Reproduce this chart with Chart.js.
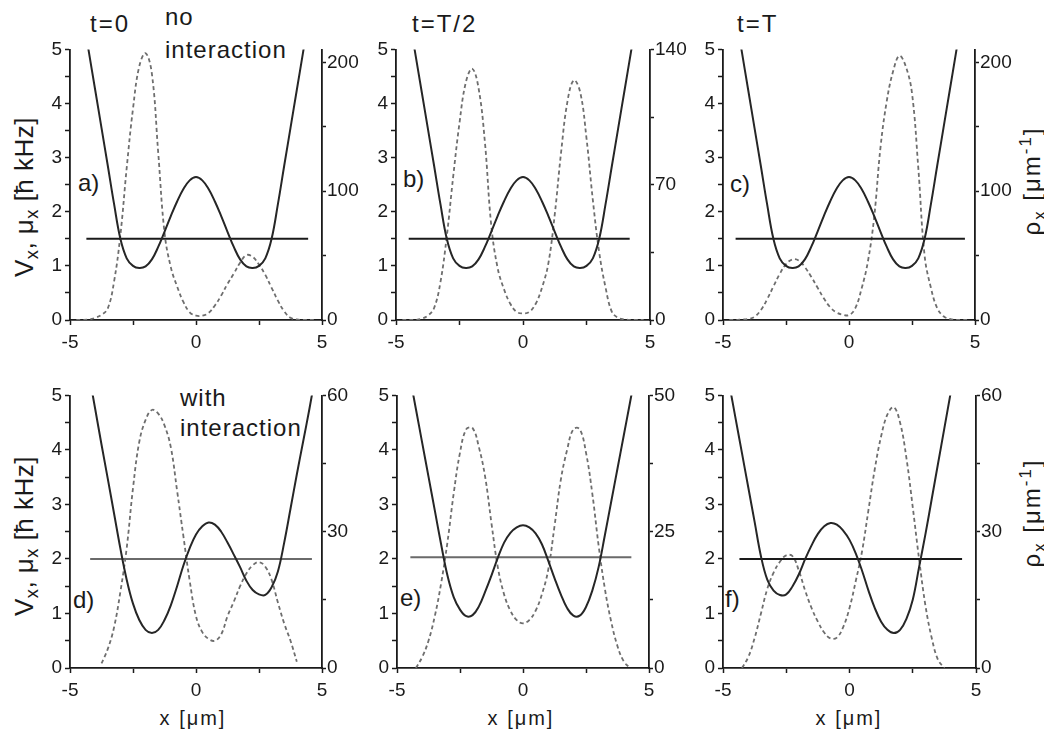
<!DOCTYPE html>
<html>
<head>
<meta charset="utf-8">
<script src="https://cdn.jsdelivr.net/npm/chart.js"></script>
<style>
  html, body { margin: 0; padding: 0; background: #fff; }
  body { width: 1044px; height: 732px; position: relative; overflow: hidden;
         font-family: "Liberation Sans", Arial, sans-serif; color: #1a1a1a; }
  .txt { position: absolute; white-space: nowrap; line-height: 1; }
  .big { font-size: 24px; letter-spacing: 2px; }
  .note { font-size: 24px; letter-spacing: 1px; }
  .tag { font-size: 24px; }
  .xt { font-size: 20px; letter-spacing: 2px; transform: translateX(-50%); }
  .yt { font-size: 26px; letter-spacing: 0.5px; transform: translate(-50%, -50%) rotate(-90deg); }
  .rt { font-size: 24px; letter-spacing: 2px; transform: translate(-50%, -50%) rotate(-90deg); }
  sub { font-size: 0.7em; vertical-align: -0.3em; line-height: 0; }
  sup { font-size: 0.7em; vertical-align: 0.55em; line-height: 0; }
</style>
</head>
<body>

<div class="txt big" style="left:90px;top:12px">t=0</div>
<div class="txt big" style="left:412px;top:12px">t=T/2</div>
<div class="txt big" style="left:737px;top:12px">t=T</div>
<div class="txt note" style="left:165px;top:5px">no</div>
<div class="txt note" style="left:165px;top:38px">interaction</div>
<div class="txt note" style="left:180px;top:386px">with</div>
<div class="txt note" style="left:180px;top:416px">interaction</div>

<div class="txt tag" style="left:78px;top:171px">a)</div>
<div class="txt tag" style="left:403px;top:167px">b)</div>
<div class="txt tag" style="left:730px;top:172px">c)</div>
<div class="txt tag" style="left:73px;top:588px">d)</div>
<div class="txt tag" style="left:400px;top:586px">e)</div>
<div class="txt tag" style="left:725px;top:587px">f)</div>

<div class="txt yt" style="left:24px;top:197px">V<sub>x</sub>, μ<sub>x</sub> [ħ kHz]</div>
<div class="txt yt" style="left:24px;top:536px">V<sub>x</sub>, μ<sub>x</sub> [ħ kHz]</div>
<div class="txt rt" style="left:1032px;top:181px">ρ<sub>x</sub> [μm<sup>-1</sup>]</div>
<div class="txt rt" style="left:1032px;top:513px">ρ<sub>x</sub> [μm<sup>-1</sup>]</div>

<div class="txt xt" style="left:193px;top:708px">x [μm]</div>
<div class="txt xt" style="left:521px;top:708px">x [μm]</div>
<div class="txt xt" style="left:849px;top:708px">x [μm]</div>

<script>
// x grid in µm, shared by every curve
const xGrid = [-5, -4.75, -4.5, -4.25, -4, -3.75, -3.5, -3.25, -3, -2.75, -2.5, -2.25, -2, -1.75, -1.5, -1.25, -1, -0.75, -0.5, -0.25,
  0, 0.25, 0.5, 0.75, 1, 1.25, 1.5, 1.75, 2, 2.25, 2.5, 2.75, 3, 3.25, 3.5, 3.75, 4, 4.25, 4.5, 4.75, 5];

// potentials V_x [hbar kHz]
const potTop = [null, null, 5.65, 4.95, 4.25, 3.55, 2.85, 2.14, 1.5, 1.14, 1.0, 0.96, 0.99, 1.12, 1.35, 1.63, 1.92, 2.19, 2.42, 2.58,
  2.64, 2.58, 2.42, 2.19, 1.92, 1.63, 1.35, 1.12, 0.99, 0.96, 1.0, 1.14, 1.5, 2.14, 2.85, 3.55, 4.25, 4.95, 5.65, null, null];
const potD = [null, null, null, 5.4, 4.75, 4.1, 3.47, 2.83, 2.19, 1.62, 1.18, 0.88, 0.7, 0.64, 0.7, 0.88, 1.15, 1.5, 1.88, 2.2,
  2.45, 2.6, 2.67, 2.63, 2.5, 2.3, 2.08, 1.85, 1.6, 1.43, 1.35, 1.34, 1.48, 1.77, 2.3, 2.92, 3.55, 4.15, 4.75, 5.4, null];
const potE = [null, null, 5.37, 4.75, 4.13, 3.51, 2.89, 2.27, 1.7, 1.3, 1.07, 0.95, 0.97, 1.13, 1.4, 1.7, 2.02, 2.3, 2.48, 2.58,
  2.62, 2.58, 2.47, 2.27, 1.97, 1.65, 1.35, 1.1, 0.96, 0.96, 1.12, 1.42, 1.85, 2.44, 3.05, 3.66, 4.27, 4.88, 5.49, null, null];
const potF = [null, 5.2, 4.57, 3.94, 3.31, 2.68, 2.05, 1.62, 1.42, 1.34, 1.35, 1.5, 1.72, 2.0, 2.25, 2.46, 2.6, 2.66, 2.63, 2.52,
  2.35, 2.1, 1.78, 1.42, 1.1, 0.85, 0.7, 0.64, 0.7, 0.9, 1.25, 1.85, 2.45, 3.1, 3.75, 4.4, 5.05, null, null, null, null];

// densities rho_x [1/µm]
const rhoA = [null, 0, 0, 0.4, 1.7, 4, 9, 30, 66, 118, 164, 197, 207, 191, 130, 68, 41, 26, 14, 6,
  3.4, 3.4, 5.5, 11.3, 19, 28, 36, 44.5, 50.4, 49, 43, 35, 25, 15, 6.7, 1.7, 0.4, 0, 0, 0, null];
const rhoB = [null, 0, 0, 0, 0.6, 2.2, 6.2, 19.6, 43.4, 74, 102, 123, 130, 120, 92, 49, 27, 16, 8.4, 4.2,
  3.4, 4.2, 8.4, 16.8, 29.4, 54.6, 86.8, 113, 124, 118, 94, 62, 35, 16.8, 4.2, 1.1, 0.3, 0, 0, 0, null];
const rhoC = [null, 0, 0, 0.4, 0.8, 2.5, 7.6, 16, 26, 35.7, 43.3, 47, 46.2, 41, 33.6, 25.2, 16.8, 10, 5.9, 4.2,
  3.8, 9.2, 24.4, 45.4, 80, 134, 170, 193, 205, 197, 176, 118, 50, 25, 9.2, 2.9, 0.8, 0, 0, 0, null];
const rhoD = [null, null, null, null, null, 1, 4.2, 9, 16.8, 26.4, 39.6, 49.8, 54.6, 56.8, 56, 53.4, 48.6, 39, 29, 19.2,
  11.4, 7.9, 6.4, 6, 7.4, 11.4, 14.6, 18, 20.8, 22.6, 23.3, 22.3, 19.4, 14.4, 9.8, 6, 1.4, null, null, null, null];
const rhoE = [null, null, null, 0, 2, 5, 9.5, 15.5, 23, 32, 39.5, 43.8, 44, 40.5, 35, 26.5, 18.5, 13.5, 10.5, 8.8,
  8.2, 8.8, 10.5, 13.5, 18, 26, 34.5, 40, 43.8, 43.8, 39.5, 32, 22.5, 14.5, 8.5, 4, 1.2, 0, null, null, null];
const rhoF = [null, null, null, 0, 2.4, 6.6, 12, 17.4, 21, 23.4, 24.8, 24.6, 21.4, 17, 13.2, 10.2, 7.8, 6.5, 6.7, 9,
  13.2, 19.2, 25.8, 34.8, 43.8, 51, 55.8, 57.4, 54, 46.2, 35.4, 24, 13.8, 6.6, 1.8, 0, null, null, null, null, null];

// chemical potentials mu_x and where their lines start/stop
const muLevel = [1.5, 1.5, 1.5, 2.0, 2.03, 2.0];
const muFrom  = [-4.35, -4.5, -4.5, -4.2, -4.47, -4.35];
const muTo    = [4.45, 4.2, 4.6, 4.6, 4.3, 4.45];

// right axis ranges
const rhoMax   = [210, 140, 210, 60, 50, 60];
const rhoMinor = [50, 35, 50, 15, 12.5, 15];
const rhoLabel = [100, 70, 100, 30, 25, 30];

const pots = [potTop, potTop, potTop, potD, potE, potF];
const rhos = [rhoA, rhoB, rhoC, rhoD, rhoE, rhoF];

// plot boxes on the page
const boxes = [
  { left: 70,  right: 322, top: 47,  bottom: 320 },
  { left: 396, right: 650, top: 47,  bottom: 320 },
  { left: 723, right: 975, top: 47,  bottom: 320 },
  { left: 70,  right: 322, top: 393, bottom: 668 },
  { left: 397, right: 649, top: 393, bottom: 668 },
  { left: 723, right: 976, top: 393, bottom: 668 }
];
const muColors = ['#1a1a1a', '#1a1a1a', '#1a1a1a', '#6a6a6a', '#6a6a6a', '#1a1a1a'];

const ink = '#1a1a1a';
const tickFont = { family: '"Liberation Sans", Arial, sans-serif', size: 19 };
const padTop = 12, axL = 60, axR = 50, axB = 40;

function pts(arr) {
  return xGrid.map(function (x, i) { return { x: x, y: arr[i] }; });
}

boxes.forEach(function (b, k) {
  var w = axL + (b.right - b.left) + axR;
  var h = padTop + (b.bottom - b.top) + axB;
  var cv = document.createElement('canvas');
  cv.width = w; cv.height = h;
  cv.style.cssText = 'position:absolute;left:' + (b.left - axL) + 'px;top:' + (b.top - padTop) + 'px;width:' + w + 'px;height:' + h + 'px';
  document.body.appendChild(cv);

  new Chart(cv.getContext('2d'), {
    type: 'line',
    data: {
      datasets: [
        { data: pts(pots[k]), yAxisID: 'yL', borderColor: '#262626', borderWidth: 2,
          pointRadius: 0, tension: 0.4, spanGaps: false },
        { data: [{ x: muFrom[k], y: muLevel[k] }, { x: muTo[k], y: muLevel[k] }], yAxisID: 'yL',
          borderColor: muColors[k], borderWidth: 2, pointRadius: 0 },
        { data: pts(rhos[k]), yAxisID: 'yR', borderColor: '#6e6e6e', borderWidth: 1.8, borderDash: [4, 3],
          pointRadius: 0, tension: 0.4, spanGaps: false }
      ]
    },
    options: {
      responsive: false,
      animation: false,
      events: [],
      layout: { padding: { top: padTop, left: 0, right: 0, bottom: 0 } },
      plugins: { legend: { display: false }, tooltip: { enabled: false } },
      scales: {
        x: {
          type: 'linear', position: 'bottom', min: -5, max: 5,
          afterFit: function (s) { s.height = axB; },
          ticks: { stepSize: 2.5, autoSkip: false, maxRotation: 0, padding: 6, font: tickFont, color: ink,
                   callback: function (v) { return v % 5 === 0 ? String(v) : ''; } },
          grid: { drawOnChartArea: false, tickLength: 5, tickWidth: 1.5, tickColor: ink },
          border: { color: ink, width: 1.8 }
        },
        yL: {
          type: 'linear', position: 'left', min: 0, max: 5,
          afterFit: function (s) { s.width = axL; },
          ticks: { stepSize: 0.5, autoSkip: false, padding: 3, font: tickFont, color: ink,
                   callback: function (v) { return Number.isInteger(v) ? String(v) : ''; } },
          grid: { drawOnChartArea: false, tickLength: 5, tickWidth: 1.5, tickColor: ink },
          border: { color: ink, width: 1.8 }
        },
        yR: {
          type: 'linear', position: 'right', min: 0, max: rhoMax[k],
          afterFit: function (s) { s.width = axR; },
          ticks: { stepSize: rhoMinor[k], includeBounds: false, autoSkip: false, padding: 1, font: tickFont, color: ink,
                   callback: function (v) {
                     var q = v / rhoLabel[k];
                     return Math.abs(q - Math.round(q)) < 1e-6 ? String(v) : '';
                   } },
          grid: { drawOnChartArea: false, tickLength: 4, tickWidth: 1.5, tickColor: ink },
          border: { color: ink, width: 1.8 }
        }
      }
    }
  });
});
</script>
</body>
</html>
